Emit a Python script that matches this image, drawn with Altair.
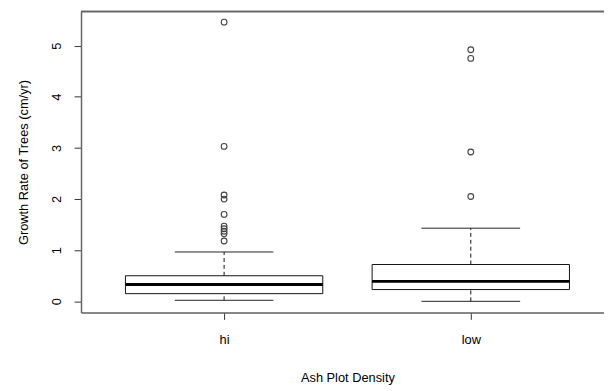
import altair as alt
import pandas as pd

# Summary statistics
groups = ["hi", "low"]
positions = [1, 2]
whisker_low = [0.02, 0.00]
q1 = [0.15, 0.23]
median = [0.33, 0.39]
q3 = [0.50, 0.72]
whisker_high = [0.965, 1.43]

# Outliers
hi_outliers = [5.46, 3.03, 2.08, 2.00, 1.70, 1.47, 1.42, 1.37, 1.32, 1.18]
low_outliers = [4.92, 4.75, 2.92, 2.05]

stats = pd.DataFrame({
    "group": groups, "pos": positions, "lo": whisker_low, "q1": q1,
    "med": median, "q3": q3, "hi": whisker_high,
})
outl = pd.DataFrame({
    "pos": [1] * len(hi_outliers) + [2] * len(low_outliers),
    "value": hi_outliers + low_outliers,
})

W, H = 530, 305
FS = 13
BORDER = "#666"
xscale = alt.Scale(domain=[0.42, 0.42 + W / 250], nice=False, zero=False)
yscale = alt.Scale(domain=[-0.218, 5.668], nice=False, zero=False)

label_expr = " : ".join(
    [f"datum.value == {p} ? '{g}'" for p, g in zip(positions[:-1], groups[:-1])]
    + [f"'{groups[-1]}'"]
)

xaxis = alt.Axis(values=positions, labelExpr=label_expr, title="Ash Plot Density",
                 grid=False, domain=True, domainColor=BORDER, domainWidth=1.5,
                 tickSize=7, tickColor="#333",
                 labelPadding=14, labelBaseline="top", labelFontSize=FS,
                 titleY=70, titleBaseline="alphabetic", titleFontWeight="normal",
                 titleFontSize=FS, titleX=W / 2 + 5)
yaxis = alt.Axis(values=[0, 1, 2, 3, 4, 5], format="d", title="Growth Rate of Trees (cm/yr)",
                 grid=False, domain=True, domainColor=BORDER, domainWidth=1.5,
                 tickSize=7, tickColor="#333",
                 labelAngle=270, labelAlign="center", labelBaseline="alphabetic",
                 labelPadding=14, labelFontSize=FS,
                 titleAngle=270, titleX=-54, titleY=H / 2, titleAlign="center",
                 titleBaseline="alphabetic", titleFontWeight="normal", titleFontSize=FS)

base = alt.Chart(stats).transform_calculate(
    xl="datum.pos - 0.4", xr="datum.pos + 0.4",
    cl="datum.pos - 0.2", cr="datum.pos + 0.2",
)

upper_whisker = base.mark_rule(color="#111", strokeDash=[4, 3], strokeWidth=1).encode(
    x=alt.X("pos:Q", scale=xscale, axis=xaxis),
    y=alt.Y("q3:Q", scale=yscale, axis=yaxis),
    y2="hi:Q",
)
lower_whisker = base.mark_rule(color="#111", strokeDash=[4, 3], strokeWidth=1).encode(
    x=alt.X("pos:Q", scale=xscale), y=alt.Y("lo:Q", scale=yscale), y2="q1:Q",
)
cap_hi = base.mark_rule(color="#222", strokeWidth=1).encode(
    x=alt.X("cl:Q", scale=xscale), x2="cr:Q", y=alt.Y("hi:Q", scale=yscale),
)
cap_lo = base.mark_rule(color="#222", strokeWidth=1).encode(
    x=alt.X("cl:Q", scale=xscale), x2="cr:Q", y=alt.Y("lo:Q", scale=yscale),
)
box = base.mark_rect(fill="white", stroke="#111", strokeWidth=1).encode(
    x=alt.X("xl:Q", scale=xscale), x2="xr:Q",
    y=alt.Y("q1:Q", scale=yscale), y2="q3:Q",
)
med = base.mark_rule(color="black", strokeWidth=3).encode(
    x=alt.X("xl:Q", scale=xscale), x2="xr:Q", y=alt.Y("med:Q", scale=yscale),
)
points = alt.Chart(outl).mark_point(shape="circle", filled=False, size=34,
                                    color="#444", strokeWidth=1.1, opacity=1).encode(
    x=alt.X("pos:Q", scale=xscale), y=alt.Y("value:Q", scale=yscale),
)
top_border = alt.Chart(stats).mark_rule(color=BORDER, strokeWidth=1.5).encode(
    x=alt.value(0), x2=alt.value(W), y=alt.value(0),
)

chart = alt.layer(upper_whisker, lower_whisker, cap_hi, cap_lo, box, med, points,
                  top_border).properties(
    width=W, height=H,
    autosize=alt.AutoSizeParams(type="none"),
    padding={"left": 74, "top": 1, "right": 0, "bottom": 74},
).configure_view(
    strokeWidth=0,
).configure_axis(
    labelFont="Liberation Sans", titleFont="Liberation Sans",
    labelColor="#1a1a1a", titleColor="#1a1a1a",
).configure(background="white")

chart.save("out.html", embed_options={"renderer": "svg", "actions": False})
